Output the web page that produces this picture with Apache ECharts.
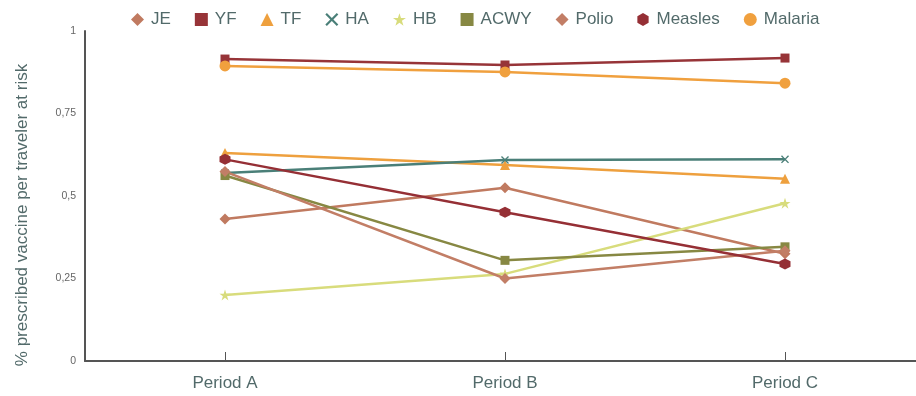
<!DOCTYPE html>
<html><head><meta charset="utf-8">
<script src="https://cdn.jsdelivr.net/npm/echarts@6/dist/echarts.min.js"></script>
<style>html,body{margin:0;padding:0;background:#fff;overflow:hidden;width:916px;height:396px}#c{width:925px;height:396px}</style>
</head><body><div id="c"></div>
<script>
const categories = ['Period A', 'Period B', 'Period C'];
const seriesNames = ['JE', 'YF', 'TF', 'HA', 'HB', 'ACWY', 'Polio', 'Measles', 'Malaria'];
const JE = [0.43, 0.525, 0.325];
const YF = [0.915, 0.897, 0.918];
const TF = [0.63, 0.594, 0.552];
const HA = [0.57, 0.609, 0.611];
const HB = [0.2, 0.264, 0.478];
const ACWY = [0.562, 0.305, 0.346];
const Polio = [0.574, 0.25, 0.334];
const Measles = [0.611, 0.451, 0.294];
const Malaria = [0.894, 0.876, 0.842];
const yTicks = ['0', '0,25', '0,5', '0,75', '1'];
const yTitle = '% prescribed vaccine per traveler at risk';

const values = {JE, YF, TF, HA, HB, ACWY, Polio, Measles, Malaria};
const colors = {JE:'#c07a60', YF:'#973438', TF:'#eea03e', HA:'#4a7f78', HB:'#d8dc7c', ACWY:'#878843', Polio:'#c27e66', Measles:'#952f35', Malaria:'#f0a03e'};
const xPath = 'path://M1.2,0 L5,3.8 L8.8,0 L10,1.2 L6.2,5 L10,8.8 L8.8,10 L5,6.2 L1.2,10 L0,8.8 L3.8,5 L0,1.2 Z';
const starPath = 'path://M5,0 L6.2,3.6 L10,3.6 L6.9,5.8 L8.1,9.5 L5,7.2 L1.9,9.5 L3.1,5.8 L0,3.6 L3.8,3.6 Z';
const hexPath = 'path://M5,0 L9.33,2.5 L9.33,7.5 L5,10 L0.67,7.5 L0.67,2.5 Z';
const symbols = {JE:'diamond', YF:'rect', TF:'triangle', HA:xPath, HB:starPath, ACWY:'rect', Polio:'diamond', Measles:hexPath, Malaria:'circle'};
const sizes = {JE:11, YF:9, TF:10, HA:8, HB:11, ACWY:9, Polio:11, Measles:11, Malaria:11};

const chart = echarts.init(document.getElementById('c'), null, {renderer:'canvas'});
const txt = '#526a6a';
chart.setOption({
  animation: false,
  legend: {
    top: 6, left: 126,
    itemGap: 24, itemWidth: 13, itemHeight: 13,
    textStyle: {color: txt, fontSize: 17, fontFamily: 'Liberation Sans, Arial', padding: [0,0,0,2]},
    data: seriesNames.map(n => ({name: n, icon: symbols[n]}))
  },
  graphic: [{
    type: 'text', x: 22, y: 215, rotation: Math.PI / 2,
    style: {text: yTitle, fill: txt, fontSize: 17, fontFamily: 'Liberation Sans, Arial', align: 'center', verticalAlign: 'middle'}
  }],
  grid: {left: 85, top: 31, bottom: 35, right: 0, containLabel: false},
  xAxis: [{
    type: 'category', data: categories, boundaryGap: true,
    axisLine: {lineStyle: {color: '#555', width: 2}},
    axisTick: {alignWithLabel: true, length: 9, lineStyle: {color: '#555', width: 1}},
    axisLabel: {color: txt, fontSize: 17, fontFamily: 'Liberation Sans, Arial', margin: 14}
  }, {
    type: 'category', data: categories, boundaryGap: true, position: 'bottom',
    axisLine: {show: false},
    axisTick: {show: true, inside: true, alignWithLabel: true, length: 9, lineStyle: {color: '#555', width: 1}},
    axisLabel: {show: false}
  }],
  yAxis: {
    type: 'value', min: 0, max: 1, interval: 0.25,
    axisLine: {show: true, lineStyle: {color: '#555', width: 2}},
    axisTick: {show: false},
    splitLine: {show: false},
    axisLabel: {color: '#666', fontSize: 10.5, fontFamily: 'Liberation Sans, Arial', margin: 9,
      formatter: v => yTicks[Math.round(v / 0.25)]}
  },
  series: seriesNames.map(n => ({
    name: n, type: 'line', data: values[n],
    symbol: symbols[n], symbolSize: sizes[n], showAllSymbol: true,
    itemStyle: {color: colors[n]},
    lineStyle: {color: colors[n], width: 2.5},
    emphasis: {disabled: true}
  }))
});
</script></body></html>
